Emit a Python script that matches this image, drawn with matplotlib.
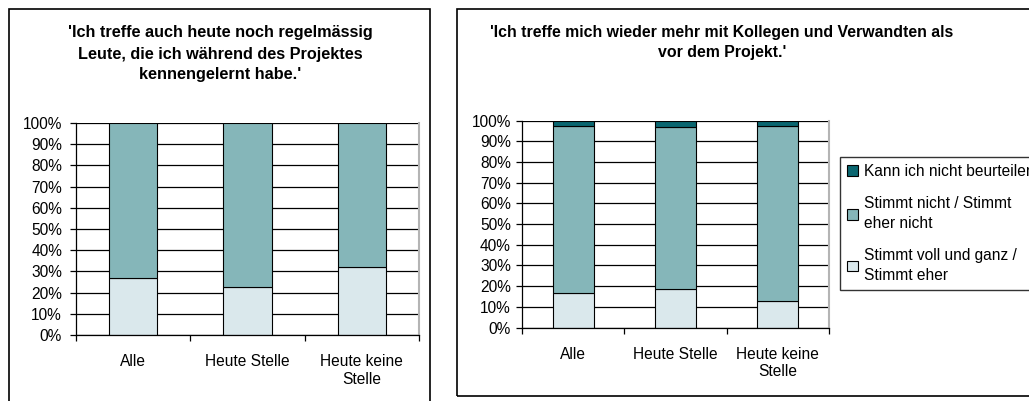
import numpy as np
import matplotlib
matplotlib.use("Agg")
import matplotlib.pyplot as plt
from matplotlib.patches import Rectangle

plt.rcParams['font.family'] = ['Liberation Sans', 'DejaVu Sans']

categories = ['Alle', 'Heute Stelle', 'Heute keine\nStelle']

# left chart: 'Ich treffe auch heute noch regelmässig Leute ...'
left_title = "'Ich treffe auch heute noch regelmässig\nLeute, die ich während des Projektes\nkennengelernt habe.'"
left_agree = [26.7, 22.5, 32.2]
left_disagree = [73.3, 77.5, 67.8]

# right chart: 'Ich treffe mich wieder mehr mit Kollegen ...'
right_title = "'Ich treffe mich wieder mehr mit Kollegen und Verwandten als\nvor dem Projekt.'"
right_agree = [16.6, 18.5, 12.8]
right_disagree = [81.0, 78.6, 84.8]
right_unknown = [2.4, 2.9, 2.4]

series_names = ['Stimmt voll und ganz /\nStimmt eher',
                'Stimmt nicht / Stimmt\neher nicht',
                'Kann ich nicht beurteilen']
colors = ['#DAE8EC', '#85B6B9', '#0A6670']

W, H = 1029, 401
fig = plt.figure(figsize=(W / 100, H / 100), dpi=100)


def fx(px):
    return px / W


def fy(py):
    return 1 - py / H


def style_axes(ax, ylabel_pad):
    ax.set_ylim(0, 100)
    ax.set_xlim(-0.5, 2.5)
    ax.set_yticks(np.arange(0, 101, 10))
    ax.set_yticklabels([f'{v}%' for v in range(0, 101, 10)], fontsize=11.2)
    ax.yaxis.grid(True, color='black', linewidth=0.9)
    ax.set_axisbelow(True)
    ax.set_xticks([-0.5, 0.5, 1.5, 2.5])
    ax.set_xticklabels([])
    ax.set_xticks([0, 1, 2], minor=True)
    ax.set_xticklabels(categories, minor=True, fontsize=11.2)
    ax.tick_params(axis='x', which='minor', length=0, pad=14)
    ax.tick_params(axis='x', which='major', length=4.5, width=0.9, direction='out')
    ax.tick_params(axis='y', length=4.5, width=0.9, direction='out', pad=ylabel_pad)
    ax.spines['top'].set_visible(False)
    ax.spines['right'].set_color('#b4b4b4')
    ax.spines['right'].set_linewidth(1.5)
    ax.spines['left'].set_linewidth(0.9)
    ax.spines['bottom'].set_linewidth(0.9)


# frames around the two charts
fig.patches.append(Rectangle((fx(9), -0.05), fx(430) - fx(9), fy(9) + 0.05,
                             transform=fig.transFigure, fill=False,
                             edgecolor='black', linewidth=1.2))
fig.patches.append(Rectangle((fx(457), fy(396)), 1.05 - fx(457), fy(9) - fy(396),
                             transform=fig.transFigure, fill=False,
                             edgecolor='black', linewidth=1.2))

x = np.arange(len(categories))

# left chart
ax1 = fig.add_axes([fx(76), fy(335), fx(419) - fx(76), fy(123) - fy(335)])
ax1.bar(x, left_agree, width=0.42, color=colors[0], edgecolor='black', linewidth=0.8)
ax1.bar(x, left_disagree, width=0.42, bottom=left_agree, color=colors[1],
        edgecolor='black', linewidth=0.8)
style_axes(ax1, 5.5)
fig.text(fx(220), fy(54), left_title, ha='center', va='center',
         fontsize=11.7, fontweight='bold', linespacing=1.5)

# right chart
ax2 = fig.add_axes([fx(522), fy(327.5), fx(829) - fx(522), fy(120.7) - fy(327.5)])
b1 = ax2.bar(x, right_agree, width=0.4, color=colors[0], edgecolor='black', linewidth=0.8)
b2 = ax2.bar(x, right_disagree, width=0.4, bottom=right_agree, color=colors[1],
             edgecolor='black', linewidth=0.8)
b3 = ax2.bar(x, right_unknown, width=0.4,
             bottom=np.array(right_agree) + np.array(right_disagree),
             color=colors[2], edgecolor='black', linewidth=0.8)
style_axes(ax2, 3.5)
fig.text(fx(722), fy(42.5), right_title, ha='center', va='center',
         fontsize=11.4, fontweight='bold', linespacing=1.45)

leg = fig.legend([b3, b2, b1], series_names[::-1], loc='upper left',
                 bbox_to_anchor=(fx(840), fy(157)), bbox_transform=fig.transFigure,
                 fontsize=11.2, frameon=True, fancybox=False, borderaxespad=0,
                 handlelength=0.7, handleheight=0.7, handletextpad=0.4,
                 labelspacing=1.1, borderpad=0.45)
for t in leg.get_texts():
    t.set_linespacing(1.4)
leg.get_frame().set_edgecolor('black')
leg.get_frame().set_linewidth(1.0)

fig.savefig('out.png', dpi=100)
